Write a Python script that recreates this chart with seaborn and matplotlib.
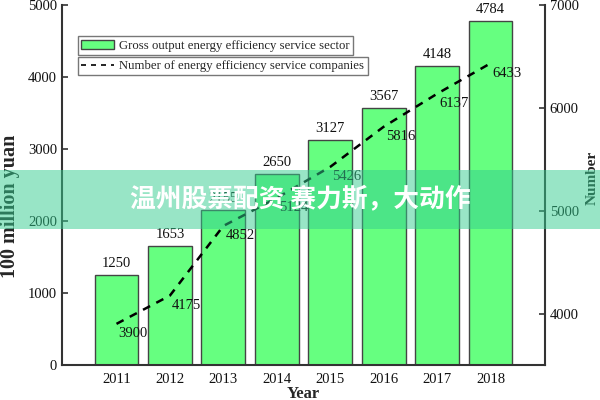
import matplotlib
matplotlib.use("Agg")
import matplotlib.pyplot as plt
import seaborn as sns
import pandas as pd
from matplotlib.patches import Rectangle, Patch
from matplotlib.lines import Line2D

years = ["2011", "2012", "2013", "2014", "2015", "2016", "2017", "2018"]
gross_output = [1250, 1653, 2155, 2650, 3127, 3567, 4148, 4784]
companies = [3900, 4175, 4852, 5124, 5426, 5816, 6137, 6433]
bar_label = "Gross output energy efficiency service sector"
line_label = "Number of energy efficiency service companies"
banner_text = "温州股票配资 赛力斯，大动作"

sns.set_theme(style="white")
plt.rcParams["font.family"] = ["Liberation Serif", "DejaVu Serif"]

df = pd.DataFrame({"Year": years, "Gross": gross_output, "Companies": companies})

fig = plt.figure(figsize=(6, 4), dpi=100)
ax = fig.add_axes([62/600, 35/400, 483/600, 360/400])

bar_color = "#66ff80"
edge = "#444444"
sns.barplot(data=df, x="Year", y="Gross", ax=ax, color=bar_color,
            edgecolor=edge, linewidth=1.0, width=0.82, saturation=1)
ax.set_xlim(-1.02, 8.02)
ax.set_ylim(0, 5000)
ax.set_yticks([0, 1000, 2000, 3000, 4000, 5000])
for i, v in enumerate(gross_output):
    ax.annotate(str(v), (i, v), xytext=(0, 3.5), textcoords="offset points",
                ha="center", va="bottom", fontsize=10.5, color="#111111")

ax2 = ax.twinx()
xs = list(range(len(years)))
sns.lineplot(x=xs, y=companies, ax=ax2, color="black", linewidth=1.8,
             linestyle=(0, (3.2, 2.8)), sort=False)
ax2.set_ylim(3500, 7000)
ax2.set_yticks([4000, 5000, 6000, 7000])
for i, v in enumerate(companies):
    ax2.annotate(str(v), (i, v), xytext=(12, -7), textcoords="offset points",
                 ha="center", va="center", fontsize=10.5, color="#111111")

for a in (ax, ax2):
    for s in ("top",):
        a.spines[s].set_visible(False)
    for s in ("left", "right", "bottom"):
        a.spines[s].set_color("#333333")
        a.spines[s].set_linewidth(1.5)
    a.tick_params(direction="in", length=4, width=1.2, color="#333333",
                  labelsize=10.5, labelcolor="#111111")
ax.spines["right"].set_visible(False)
ax2.spines["left"].set_visible(False)
ax2.spines["bottom"].set_visible(False)
ax.tick_params(axis="x", pad=6)

ax.set_xlabel("Year", fontsize=12, fontweight="bold", labelpad=0)
ax.set_ylabel("100 million yuan", fontsize=14.5, fontweight="bold")
ax.yaxis.set_label_coords(-0.086, 0.44)
ax2.set_ylabel("Number", fontsize=11, fontweight="bold")
ax2.yaxis.set_label_coords(1.085, 0.52)

h1 = [Patch(facecolor=bar_color, edgecolor=edge, linewidth=1.0)]
h2 = [Line2D([0], [0], color="black", linewidth=1.2, linestyle=(0, (3, 3)))]
leg_kw = dict(fontsize=9.2, frameon=True, fancybox=False, borderpad=0.25,
              handlelength=2.6, handletextpad=0.4, borderaxespad=0,
              edgecolor="#555555")
l1 = ax2.legend(h1, [bar_label], loc="upper left",
                bbox_to_anchor=(0.033, 0.913), **leg_kw)
l1.get_frame().set_linewidth(1.0)
ax2.add_artist(l1)
l2 = ax2.legend(h2, [line_label], loc="upper left",
                bbox_to_anchor=(0.033, 0.856), **leg_kw)
l2.get_frame().set_linewidth(1.0)

# overlay banner
fig.patches.append(Rectangle((0, 1 - 229/400), 1, 59/400, transform=fig.transFigure,
                             facecolor=(0.2, 0.8, 0.56), alpha=0.5,
                             edgecolor="none", zorder=10))
fig.text(0.5, 1 - 200/400, banner_text, ha="center", va="center",
         fontsize=18.5, fontweight="bold", color="white",
         family=["Noto Sans CJK SC", "DejaVu Sans"], zorder=11)

fig.savefig("out.png", dpi=100)
